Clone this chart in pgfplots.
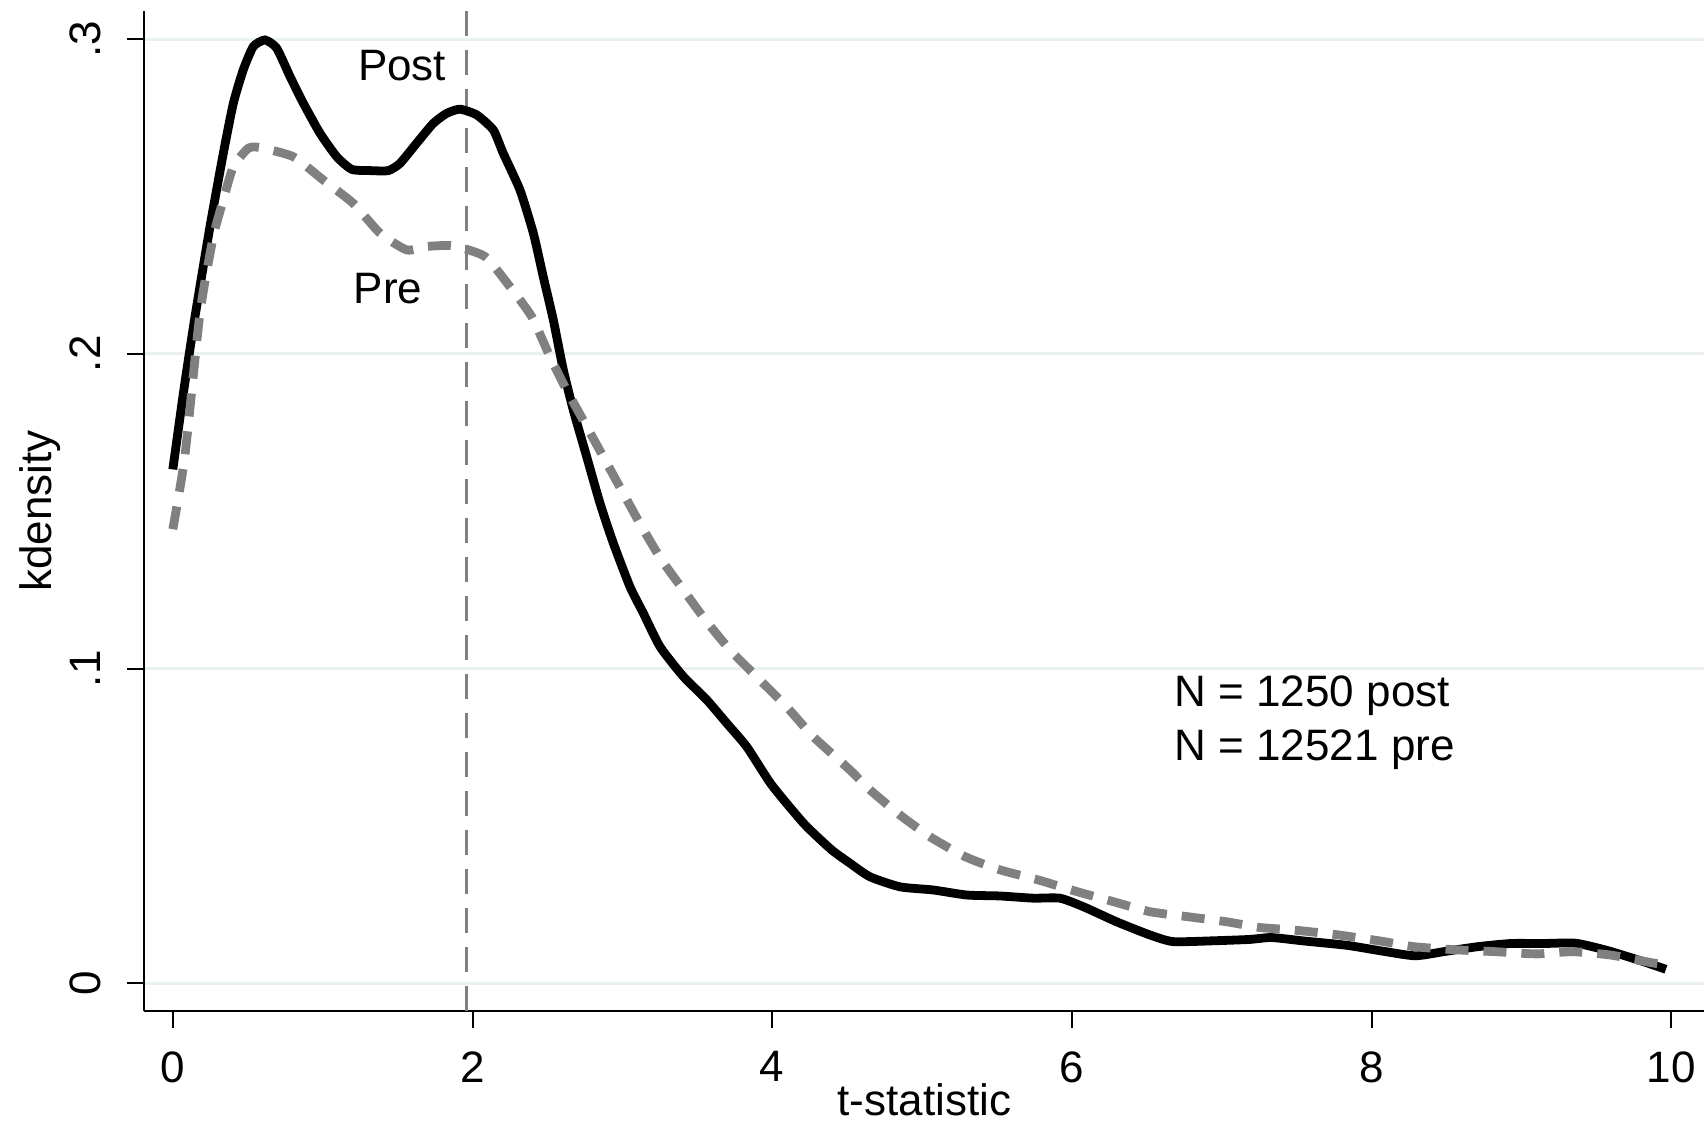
\documentclass[border=0pt]{standalone}
\usepackage{fontspec}
\setmainfont{Liberation Sans}
\usepackage{pgfplots}
\pgfplotsset{compat=1.18}
\definecolor{gridc}{RGB}{232,240,241}
\definecolor{stgray}{RGB}{128,128,128}

\begin{document}
\fontsize{11}{13.6}\selectfont
\begin{tikzpicture}
\begin{axis}[
  at={(0,0)}, anchor=south west,
  scale only axis, width=389.875pt, height=249.925pt,
  xmin=-0.189, xmax=10.218, ymin=-0.00864, ymax=0.3089,
  axis x line*=bottom, axis y line*=left,
  axis line style={line width=0.5pt, -},
  xtick={0,2,4,6,8,10}, xticklabels={0,2,4,6,8,10},
  ytick={0,0.1,0.2,0.3}, yticklabels={0,.1,.2,.3},
  tick align=outside, major tick length=4.25pt,
  tick style={line width=0.5pt, black},
  ymajorgrids, major grid style={line width=0.75pt, gridc},
  tick label style={font=\fontsize{11}{13}\selectfont},
  xticklabel style={anchor=north, inner sep=0pt},
  xticklabel shift=5.75pt,
  yticklabel style={rotate=90, anchor=base, inner sep=0pt},
  yticklabel shift=6.75pt,
  xlabel={t-statistic}, ylabel={kdensity},
  label style={font=\fontsize{11}{13}\selectfont},
  xlabel style={at={(axis description cs:0.5,-0.105)}, anchor=base},
  ylabel style={at={(axis description cs:-0.067,0.5)}, anchor=center},
  clip=false,
]
% critical value
\addplot[stgray, line width=0.75pt, dash pattern=on 6.25pt off 3.5pt]
  coordinates {(1.96,-0.00864) (1.96,0.3089)};
% post
\addplot[black, line width=2.2pt, smooth, tension=0.35] coordinates {
(0,0.1633) (0.075,0.189) (0.148,0.2118) (0.248,0.2404) (0.337,0.2637)
(0.404,0.2796) (0.47,0.2902) (0.537,0.2976) (0.615,0.2997) (0.693,0.2971)
(0.782,0.2881) (0.871,0.2796) (0.982,0.2701) (1.094,0.2626) (1.194,0.2586)
(1.316,0.2582) (1.438,0.2582) (1.516,0.2605) (1.627,0.2669) (1.738,0.2732)
(1.828,0.2764) (1.916,0.2777) (2.028,0.2759) (2.139,0.2711) (2.205,0.2637)
(2.317,0.252) (2.406,0.2383) (2.472,0.2245) (2.539,0.2108) (2.606,0.1949)
(2.672,0.1822) (2.762,0.1673) (2.851,0.1525) (2.94,0.1398) (3.051,0.126)
(3.14,0.1176) (3.251,0.107) (3.407,0.0975) (3.563,0.0901) (3.696,0.0827)
(3.83,0.0752) (3.996,0.0631) (4.213,0.0507) (4.395,0.0425) (4.519,0.0382)
(4.652,0.0339) (4.853,0.0307) (5.075,0.0297) (5.298,0.0281) (5.52,0.0278)
(5.742,0.0271) (5.92,0.0271) (6.076,0.0244) (6.298,0.0196) (6.521,0.0154)
(6.676,0.0133) (6.966,0.0136) (7.188,0.0140) (7.331,0.0146) (7.549,0.0135)
(7.839,0.0121) (8.057,0.0104) (8.29,0.0088) (8.492,0.0102) (8.709,0.0117)
(8.927,0.0127) (9.144,0.0127) (9.362,0.0128) (9.579,0.0104) (9.797,0.0072)
(9.964,0.0045)
};
% pre
\addplot[stgray, line width=2.2pt, line cap=butt, dash pattern=on 5.75pt off 3.75pt, smooth, tension=0.35] coordinates {
(0,0.1443) (0.08,0.1674) (0.181,0.2129) (0.27,0.2372) (0.337,0.2489)
(0.404,0.2595) (0.504,0.2653) (0.582,0.2655) (0.804,0.2626) (1.004,0.2552)
(1.204,0.2478) (1.383,0.2383) (1.561,0.233) (1.694,0.2341) (1.872,0.2343)
(2.083,0.2309) (2.25,0.2213) (2.395,0.2118) (2.517,0.1991) (2.628,0.1885)
(2.762,0.1769) (2.884,0.1663) (3.006,0.1557) (3.129,0.1451) (3.262,0.1345)
(3.407,0.125) (3.563,0.1149) (3.729,0.1054) (3.918,0.0964) (4.096,0.0879)
(4.274,0.0784) (4.519,0.0678) (4.652,0.0615) (4.853,0.0535) (5.053,0.0466)
(5.286,0.0403) (5.52,0.0361) (5.775,0.0329) (6.032,0.0292) (6.276,0.026)
(6.521,0.0228) (6.776,0.0212) (7.033,0.0196) (7.25,0.0178) (7.476,0.0170)
(7.766,0.0155) (8.057,0.0135) (8.28,0.0117) (8.564,0.0107) (8.83,0.0101)
(9.10,0.0094) (9.34,0.0101) (9.60,0.0090) (9.88,0.0065) (9.964,0.0060)
};
\node[font=\fontsize{11}{13}\selectfont] at (axis cs:1.53,0.2917) {Post};
\node[font=\fontsize{11}{13}\selectfont] at (axis cs:1.436,0.2206) {Pre};
\node[font=\fontsize{11}{13.6}\selectfont, anchor=west, align=left, inner sep=0pt] at (axis cs:6.68,0.0828) {N = 1250 post\\N = 12521 pre};
\end{axis}
\pgfresetboundingbox
\path[use as bounding box] (-36.125pt,-28.075pt) rectangle (389.875pt,252.675pt);
\end{tikzpicture}
\end{document}
